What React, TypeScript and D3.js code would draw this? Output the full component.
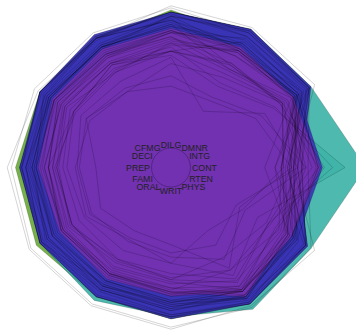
import React from "react";
import * as d3 from "d3";

const axes = ["CONT", "INTG", "DMNR", "DILG", "CFMG", "DECI", "PREP", "FAMI", "ORAL", "WRIT", "PHYS", "RTEN"];

const judges = [
  "AARONSON,L.H.", "ALEXANDER,J.M.", "ARMENTANO,A.J.", "BERDON,R.I.", "BRACKEN,J.J.", "BURNS,E.B.",
  "CALLAHAN,R.J.", "COHEN,S.S.", "DALY,J.J.", "DANNEHY,J.F.", "DEAN,H.H.", "DEVITA,H.J.",
  "DRISCOLL,P.J.", "GRILLO,A.E.", "HADDEN,W.L.JR.", "HAMILL,E.C.", "HEALEY.A.H.", "HULL,T.C.",
  "LEVINE,I.", "LEVISTER,R.L.", "MARTIN,L.F.", "MCGRATH,J.F.", "MIGNONE,A.F.", "MISSAL,H.M.",
  "MULVEY,H.M.", "NARUK,H.J.", "O'BRIEN,F.J.", "O'SULLIVAN,T.J.", "PASKEY,L.", "RUBINOW,J.E.",
  "SADEN.G.A.", "SATANIELLO,A.G.", "SHEA,D.M.", "SHEA,J.F.JR.", "SIDOR,W.J.", "SPEZIALE,J.A.",
  "SPONZO,M.J.", "STAPLETON,J.F.", "TESTO,R.J.", "TIERNEY,W.L.JR.", "WALL,R.A.", "WRIGHT,D.B.",
  "ZARRILLI,K.J."
];

const CONT = [5.7,6.8,7.2,6.8,7.3,6.2,10.6,7.0,7.3,8.2,7.0,6.5,6.7,7.0,6.5,7.3,8.0,7.7,8.3,9.6,7.1,7.6,6.6,6.2,7.5,7.8,7.1,7.5,7.5,7.1,6.6,8.4,6.9,7.3,7.7,8.5,6.9,6.5,8.3,8.3,9.0,7.1,8.6];
const INTG = [7.9,8.9,8.1,8.8,6.4,8.8,9.0,5.9,8.9,7.9,8.0,8.0,8.6,7.5,8.1,8.0,7.6,7.7,8.2,6.9,8.2,7.3,7.4,8.3,8.7,8.9,8.5,9.0,8.1,9.2,7.4,8.0,8.5,8.9,6.2,8.3,8.3,8.2,7.3,8.2,7.0,8.4,7.4];
const DMNR = [7.7,8.8,7.8,8.5,4.3,8.7,8.9,4.9,8.9,6.7,7.6,7.6,8.2,6.4,8.0,7.4,6.6,6.7,7.4,5.7,7.7,6.9,6.2,8.1,8.5,8.7,8.3,8.9,7.7,9.0,6.9,7.9,7.8,8.8,5.1,8.1,8.0,7.7,7.0,7.8,5.9,8.4,7.0];
const DILG = [7.3,8.5,7.8,8.8,6.5,8.5,8.7,5.1,8.7,8.1,7.4,7.2,6.8,6.8,8.0,7.7,7.2,7.5,7.8,6.6,7.1,6.8,6.2,7.7,8.6,8.9,8.0,8.7,8.2,9.0,8.4,7.9,8.5,8.7,5.6,8.3,8.1,7.8,6.8,8.3,7.0,7.7,7.5];
const CFMG = [7.1,7.8,7.5,8.3,6.0,7.9,8.5,5.4,8.6,7.9,7.3,7.0,6.9,6.5,7.9,7.3,6.5,7.4,7.7,6.9,6.6,6.7,5.4,7.4,8.5,8.7,7.9,8.4,8.0,8.4,8.0,7.8,8.1,8.4,5.6,8.4,7.9,7.6,7.0,8.4,7.0,7.5,7.5];
const DECI = [7.4,8.1,7.6,8.5,6.2,8.0,8.5,5.9,8.5,8.0,7.5,7.1,6.6,7.0,8.0,7.3,6.5,7.5,7.7,6.6,6.6,6.8,5.7,7.3,8.4,8.8,7.9,8.5,8.1,8.6,7.9,7.8,8.2,8.5,5.9,8.2,7.9,7.7,7.1,8.3,7.2,7.7,7.7];
const PREP = [7.1,8.0,7.5,8.7,5.7,8.1,8.5,4.8,8.4,7.9,7.1,6.9,7.1,6.6,7.9,7.3,6.8,7.1,7.7,6.2,6.7,6.4,5.8,7.3,8.5,8.9,7.8,8.4,8.2,9.1,8.2,7.6,8.4,8.5,5.6,8.2,7.9,7.7,6.7,7.7,6.9,7.8,7.4];
const FAMI = [7.1,8.0,7.5,8.7,5.7,8.0,8.5,5.1,8.4,8.1,7.2,7.0,7.3,6.8,7.8,7.2,6.7,7.3,7.8,6.0,6.7,6.3,5.9,7.3,8.5,9.0,7.8,8.3,8.4,9.1,8.4,7.4,8.5,8.5,5.6,8.1,7.7,7.7,6.7,7.6,6.9,8.2,7.2];
const ORAL = [7.1,7.8,7.3,8.4,5.1,8.0,8.6,4.7,8.4,7.7,7.1,7.0,7.2,6.3,7.8,7.1,6.4,7.1,7.5,5.8,6.8,6.3,5.2,7.2,8.4,8.8,7.8,8.3,8.0,8.9,7.7,7.4,8.1,8.4,5.3,7.9,7.6,7.5,6.7,7.5,6.5,8.0,6.9];
const WRIT = [7.0,7.9,7.4,8.5,5.3,8.0,8.4,4.9,8.5,7.8,7.2,7.1,7.2,6.6,7.8,7.2,6.5,7.3,7.6,5.8,6.8,6.3,5.8,7.3,8.4,8.9,7.7,8.3,8.1,9.0,7.9,7.4,8.3,8.4,5.5,8.0,7.7,7.6,6.7,7.7,6.6,8.1,7.0];
const PHYS = [8.3,8.5,7.9,8.8,5.5,8.6,9.1,6.8,8.8,8.5,8.4,6.9,8.1,6.2,8.4,8.0,6.9,8.1,8.0,7.2,7.5,7.4,4.7,7.8,8.7,9.0,8.3,8.8,8.4,8.9,8.4,8.1,8.7,8.8,6.3,8.0,8.1,8.5,8.0,8.1,7.6,8.3,7.8];
const RTEN = [7.8,8.7,7.8,8.7,4.8,8.6,9.0,5.0,8.8,7.9,7.7,7.2,7.7,6.5,8.0,7.6,6.7,7.4,8.0,6.0,7.3,6.6,5.2,7.6,8.7,9.0,8.2,8.7,8.1,9.2,7.5,7.9,8.3,8.8,5.3,8.2,8.0,7.7,7.0,7.9,6.6,8.1,7.1];

// cluster of each judge (drawn in this group order)
const groupNames = ["g0", "g1", "g2", "g3", "g4"];
const judgeGroup = [
  "g4","g3","g3","g1","g4","g3",
  "g2","g4","g3","g3","g4","g4",
  "g3","g4","g3","g4","g4","g4",
  "g3","g2","g3","g4","g4","g3",
  "g3","g0","g3","g3","g3","g0",
  "g3","g4","g3","g3","g4","g3",
  "g3","g3","g4","g3","g2","g3",
  "g2"
];

const columns = [CONT, INTG, DMNR, DILG, CFMG, DECI, PREP, FAMI, ORAL, WRIT, PHYS, RTEN];

export default function App() {
  const W = 356, H = 332;
  const cx = 171, cy = 167.5;
  const r = d3.scaleLinear().domain([1.15, 10]).range([0, 182.3]);
  const color = d3.scaleOrdinal<string, string>()
    .domain(groupNames)
    .range(["#ffffff", "#6aaa3a", "#3fb3a7", "#3a34b5", "#7131b1"]);
  const n = axes.length;
  const angleOf = (i: number) => Math.PI / 2 - (i * 2 * Math.PI) / n;
  const line = d3.lineRadial<number>()
    .angle((_, i) => angleOf(i))
    .radius((v) => r(v))
    .curve(d3.curveLinearClosed);

  const rows = judges.map((name, j) => ({
    name,
    group: judgeGroup[j],
    values: columns.map((col) => col[j]),
  }));
  const ordered = groupNames.flatMap((g) => rows.filter((d) => d.group === g));

  return (
    <svg width={W} height={H} style={{ position: "absolute", left: 0, top: 0 }}>
      <g transform={`translate(${cx},${cy})`}>
        <g>
          {ordered.map((d) => (
            <path key={"f" + d.name} d={line(d.values) || ""} fill={color(d.group)} fillOpacity={0.92} stroke="none" />
          ))}
        </g>
        <g>
          {ordered.map((d) => (
            <path key={"s" + d.name} d={line(d.values) || ""} fill="none" stroke="#000" strokeOpacity={0.17} strokeWidth={1} />
          ))}
        </g>
        <circle r={19.5} fill="none" stroke="#000" strokeOpacity={0.25} />
        {axes.map((a, i) => {
          const t = (i * 2 * Math.PI) / n;
          const c = Math.cos(t), s = Math.sin(t);
          const anchor = Math.abs(c) < 0.01 ? "middle" : c > 0 ? "start" : "end";
          return (
            <text key={a} x={21 * c} y={-23 * s} dy="0.35em" textAnchor={anchor}
              fontFamily="'Liberation Sans', Arial, sans-serif" fontSize={8.8} fill="#222">
              {a}
            </text>
          );
        })}
      </g>
    </svg>
  );
}
